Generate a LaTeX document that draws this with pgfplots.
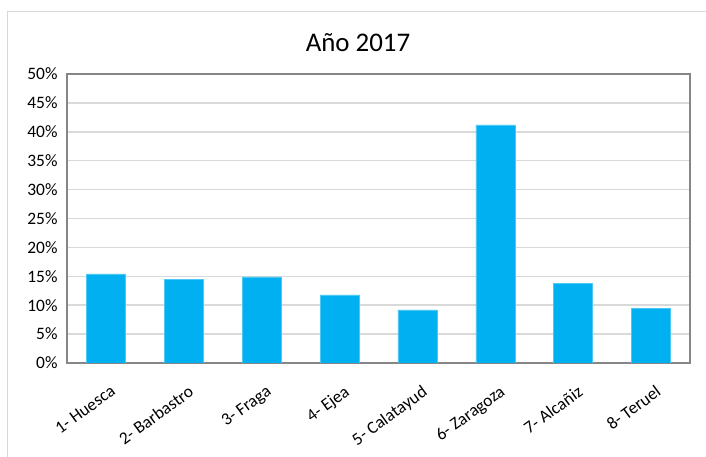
\documentclass[border=0pt]{standalone}
\usepackage{pgfplots}
\pgfplotsset{compat=1.18}
\usepackage{fontspec}
\setmainfont{Carlito}
\definecolor{barblue}{HTML}{00B0F0}
\definecolor{gridgray}{HTML}{D9D9D9}
\definecolor{framegray}{HTML}{868686}

\begin{document}
\begin{tikzpicture}[x=1bp,y=1bp]
  \useasboundingbox (0,0) rectangle (706,457);
  % chart area border (cropped at right and bottom)
  \draw[gridgray, line width=1bp] (7,0) -- (7,445) -- (706,445);
  \node[anchor=base, font=\fontsize{27}{30}\selectfont] at (358,405) {Año 2017};
  \begin{axis}[
    at={(67bp,94bp)}, anchor=south west,
    scale only axis, width=623bp, height=289bp,
    xmin=0.5, xmax=8.5, ymin=0, ymax=50,
    ybar, bar width=39bp,
    xtick={1,...,8},
    xticklabels={1- Huesca, 2- Barbastro, 3- Fraga, 4- Ejea, 5- Calatayud, 6- Zaragoza, 7- Alcañiz, 8- Teruel},
    x tick label style={xshift=4bp, yshift=-20bp, rotate=36, anchor=north east, inner sep=1bp,
      font=\fontsize{17.5}{20}\selectfont},
    ytick={0,5,...,50},
    yticklabel={\pgfmathprintnumber{\tick}\%},
    /pgf/number format/assume math mode=true,
    y tick label style={xshift=-6bp, font=\fontsize{17.5}{19}\selectfont},
    major tick length=0pt,
    ymajorgrids, grid style={gridgray, line width=1.5bp},
    axis line style={framegray, line width=1.5bp},
  ]
    \addplot[fill=barblue, draw=barblue!70!white] coordinates {
      (1,15.4) (2,14.5) (3,14.9) (4,11.8) (5,9.2) (6,41.2) (7,13.8) (8,9.5)
    };
  \end{axis}
\end{tikzpicture}
\end{document}
